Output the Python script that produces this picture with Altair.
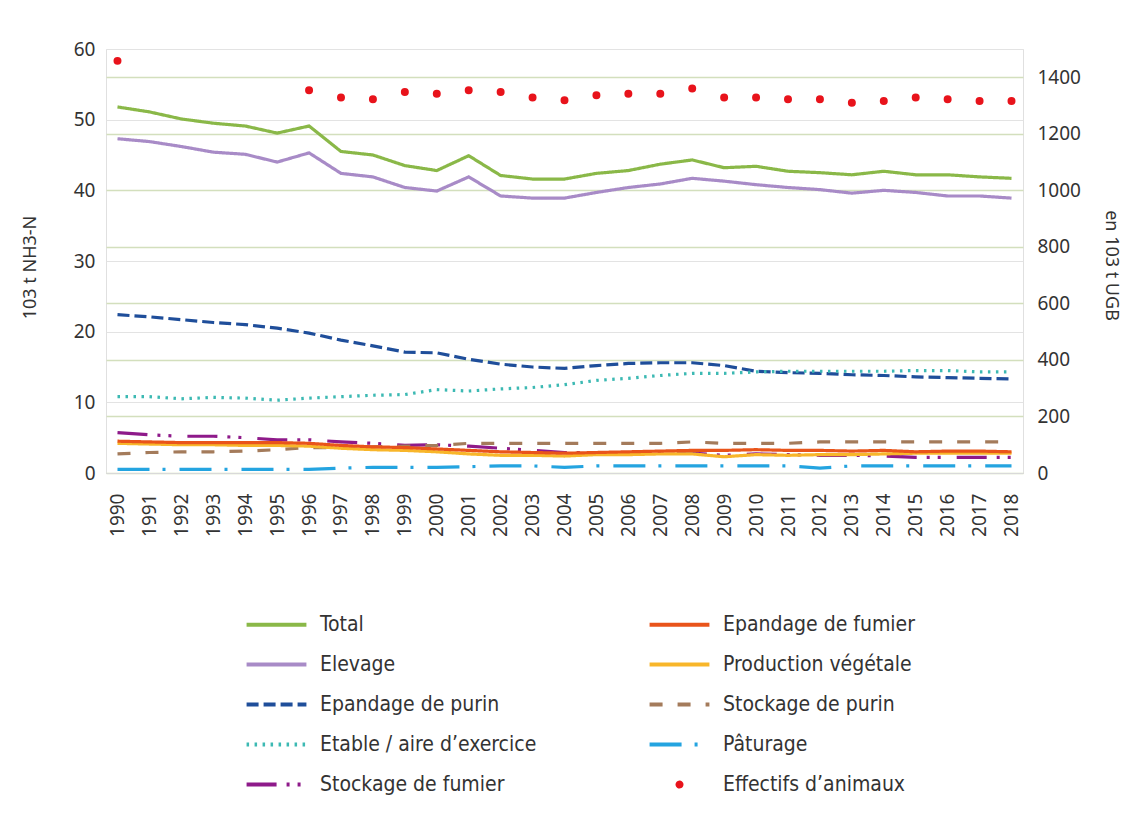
import altair as alt
import pandas as pd

years = list(range(1990, 2019))

total = [51.8, 51.1, 50.1, 49.5, 49.1, 48.1, 49.1, 45.5, 45.0, 43.5, 42.8, 44.9, 42.1, 41.6, 41.6,
         42.4, 42.8, 43.7, 44.3, 43.2, 43.4, 42.7, 42.5, 42.2, 42.7, 42.2, 42.2, 41.9, 41.7]
elevage = [47.3, 46.9, 46.2, 45.4, 45.1, 44.0, 45.3, 42.4, 41.9, 40.4, 39.9, 41.9, 39.2, 38.9, 38.9,
           39.7, 40.4, 40.9, 41.7, 41.3, 40.8, 40.4, 40.1, 39.6, 40.0, 39.7, 39.2, 39.2, 38.9]
epandage_purin = [22.4, 22.1, 21.7, 21.3, 21.0, 20.5, 19.8, 18.8, 18.0, 17.1, 17.0, 16.1, 15.4, 15.0, 14.8,
                  15.2, 15.5, 15.6, 15.6, 15.2, 14.4, 14.2, 14.1, 13.9, 13.8, 13.6, 13.5, 13.4, 13.3]
etable = [10.8, 10.8, 10.5, 10.7, 10.6, 10.3, 10.6, 10.8, 11.0, 11.1, 11.8, 11.6, 11.9, 12.1, 12.5,
          13.1, 13.4, 13.8, 14.1, 14.1, 14.3, 14.4, 14.4, 14.4, 14.4, 14.5, 14.5, 14.3, 14.3]
stockage_fumier = [5.7, 5.4, 5.2, 5.2, 5.0, 4.7, 4.7, 4.4, 4.2, 3.9, 4.0, 3.8, 3.5, 3.2, 2.9,
                   2.9, 2.8, 2.9, 2.8, 2.5, 2.7, 2.6, 2.5, 2.5, 2.4, 2.2, 2.2, 2.2, 2.2]
epandage_fumier = [4.5, 4.4, 4.3, 4.3, 4.3, 4.3, 4.2, 3.9, 3.7, 3.6, 3.4, 3.2, 3.0, 2.9, 2.8,
                   2.9, 3.0, 3.1, 3.2, 3.2, 3.3, 3.2, 3.2, 3.1, 3.2, 3.0, 3.1, 3.1, 3.0]
production_vegetale = [4.2, 4.1, 4.0, 4.0, 3.9, 3.9, 3.8, 3.5, 3.3, 3.2, 3.0, 2.7, 2.5, 2.5, 2.4,
                       2.6, 2.6, 2.7, 2.7, 2.3, 2.6, 2.5, 2.6, 2.6, 2.7, 2.8, 2.8, 2.8, 2.8]
stockage_purin = [2.7, 2.9, 3.0, 3.0, 3.1, 3.3, 3.6, 3.6, 3.7, 3.8, 3.9, 4.2, 4.2, 4.2, 4.2,
                  4.2, 4.2, 4.2, 4.4, 4.2, 4.2, 4.2, 4.4, 4.4, 4.4, 4.4, 4.4, 4.4, 4.4]
paturage = [0.5, 0.5, 0.5, 0.5, 0.5, 0.5, 0.5, 0.7, 0.8, 0.8, 0.8, 0.9, 1.0, 1.0, 0.8,
            1.0, 1.0, 1.0, 1.0, 1.0, 1.0, 1.0, 0.7, 1.0, 1.0, 1.0, 1.0, 1.0, 1.0]

effectifs_years = [1990] + list(range(1996, 2019))
effectifs = [1458, 1354, 1328, 1322, 1348, 1342, 1354, 1348, 1328, 1319, 1336, 1342, 1342, 1360,
             1328, 1328, 1322, 1322, 1310, 1316, 1328, 1322, 1316, 1316]

line_series = {
    "Total": total,
    "Elevage": elevage,
    "Epandage de purin": epandage_purin,
    "Etable / aire d’exercice": etable,
    "Stockage de fumier": stockage_fumier,
    "Stockage de purin": stockage_purin,
    "Pâturage": paturage,
    "Production végétale": production_vegetale,
    "Epandage de fumier": epandage_fumier,
}

# legend order (column-major, 2 columns of 5)
legend_order = ["Total", "Elevage", "Epandage de purin", "Etable / aire d’exercice",
                "Stockage de fumier", "Epandage de fumier", "Production végétale",
                "Stockage de purin", "Pâturage", "Effectifs d’animaux"]
colors = ["#8ab848", "#a88bc7", "#1f4e9a", "#3cb9b3", "#8e1a8a",
          "#e9541a", "#f8b62a", "#a47b5b", "#24a4e0", "#e8131b"]
dashes = [[1, 0], [1, 0], [12, 5], [2.5, 5.5], [30, 10, 3, 8, 3, 16],
          [1, 0], [1, 0], [13, 15], [32, 13, 3, 14], [1, 0]]
line_path = "M-1.71,0H1.71"
dot_path = "M-0.114,0A0.114,0.114 0 1,0 0.114,0A0.114,0.114 0 1,0 -0.114,0Z"
shapes = [line_path] * 9 + [dot_path]

rows = []
for name, vals in line_series.items():
    for y, v in zip(years, vals):
        rows.append({"year": y, "series": name, "value": v})
df_lines = pd.DataFrame(rows)
df_pts = pd.DataFrame({"year": effectifs_years, "series": "Effectifs d’animaux", "value": effectifs})

FONT = "Noto Sans"
LFONT = "Liberation Sans Narrow, DejaVu Sans Condensed, Roboto"

xscale = alt.Scale(type="point", domain=years, padding=0.36)
xaxis = alt.Axis(title=None, labelAngle=270, labelAlign="right", labelBaseline="middle",
                 labelPadding=20, ticks=False, domainColor="#d9d9d9", labelFontSize=19,
                 labelColor="#333333", labelFont=FONT, grid=False, labelOverlap=False)

leg = alt.Legend(title=None, orient="none", legendX=151, legendY=556, columns=2,
                 columnPadding=104, rowPadding=10, symbolSize=1225, symbolStrokeWidth=4,
                 labelFont=LFONT, labelFontSize=21, labelColor="#333333", labelOffset=24,
                 padding=0, labelLimit=400)

color_scale = alt.Scale(domain=legend_order, range=colors)
dash_scale = alt.Scale(domain=legend_order, range=dashes)
shape_scale = alt.Scale(domain=legend_order, range=shapes)

lines = alt.Chart(df_lines).mark_line(strokeWidth=3.2).encode(
    x=alt.X("year:O", scale=xscale, axis=xaxis),
    y=alt.Y("value:Q", scale=alt.Scale(domain=[0, 60]),
            axis=alt.Axis(title="103 t NH3-N", values=[0, 10, 20, 30, 40, 50, 60], grid=True,
                          gridColor="#e3e3e3", domain=False, ticks=False, labelPadding=11,
                          labelFontSize=19, labelColor="#333333", labelFont=FONT,
                          titleFont=FONT, titleFontSize=18, titleFontWeight="normal",
                          titleColor="#333333", titleX=-76, titleY=218, titleAngle=270,
                          titleAlign="center", titleBaseline="middle")),
    color=alt.Color("series:N", scale=color_scale, legend=leg),
    strokeDash=alt.StrokeDash("series:N", scale=dash_scale, legend=leg),
)

points = alt.Chart(df_pts).mark_point(filled=False, strokeWidth=4, size=1225, opacity=1).encode(
    x=alt.X("year:O", scale=xscale, axis=xaxis),
    y=alt.Y("value:Q", scale=alt.Scale(domain=[0, 1500]),
            axis=alt.Axis(orient="right", title="en 103 t UGB", format="d",
                          values=[0, 200, 400, 600, 800, 1000, 1200, 1400], grid=True,
                          gridColor="#d3dfbd", gridWidth=1.5, domain=False, ticks=False,
                          labelPadding=14, labelFontSize=19, labelColor="#333333",
                          labelFont=FONT, titleFont=FONT, titleFontSize=18,
                          titleFontWeight="normal", titleColor="#333333", titleX=87,
                          titleY=216, titleAngle=90, titleAlign="center",
                          titleBaseline="middle")),
    color=alt.Color("series:N", scale=color_scale, legend=leg),
    shape=alt.Shape("series:N", scale=shape_scale, legend=leg),
)

chart = alt.layer(lines, points).resolve_scale(y="independent").properties(
    width=917, height=424,
    autosize=alt.AutoSizeParams(type="none"),
    padding={"left": 98, "top": 41, "right": 106, "bottom": 345},
    background="#ffffff",
).configure_view(stroke="#e0e0e0", strokeWidth=1)

chart.save("out.html", embed_options={"renderer": "svg", "actions": False})
